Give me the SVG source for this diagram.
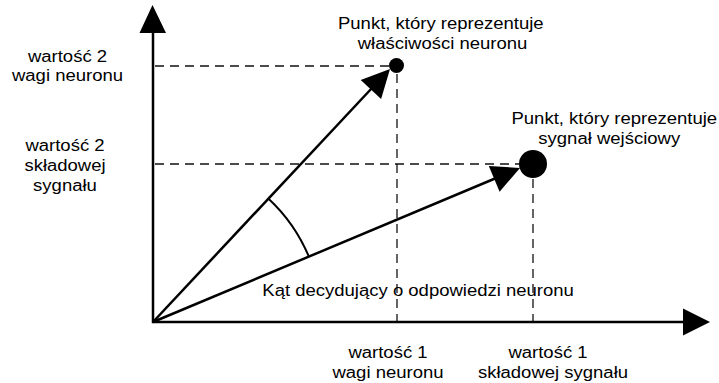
<svg xmlns="http://www.w3.org/2000/svg" width="719" height="383" viewBox="0 0 719 383">
  <style>
    text { font-family: "Liberation Sans", Arial, sans-serif; font-size: 16px; fill: #000; }
    .mid { text-anchor: middle; }
    .axis, .vec { stroke: #000; stroke-width: 2.5; fill: none; }
    .guide { stroke: #111; stroke-width: 1.3; stroke-dasharray: 9 6; fill: none; }
    .arc { stroke: #000; stroke-width: 2; fill: none; }
    .head { fill: #000; stroke: none; }
  </style>

  <!-- guide lines from the points to the axes -->
  <g id="guides">
    <line class="guide" x1="155" y1="66" x2="390" y2="66"/>
    <line class="guide" x1="397" y1="74" x2="397" y2="321"/>
    <line class="guide" x1="155" y1="164" x2="519" y2="164"/>
    <line class="guide" x1="533" y1="179" x2="533" y2="321"/>
  </g>

  <!-- axes and vectors -->
  <g id="connectors">
    <line class="axis" x1="153" y1="323" x2="153" y2="32"/>
    <polygon class="head" points="139.5,33 152.5,5 166,33"/>
    <line class="axis" x1="152" y1="322" x2="684" y2="322"/>
    <polygon class="head" points="683,308.5 710,322 683,335.5"/>

    <line class="vec" x1="153" y1="322" x2="372" y2="88"/>
    <polygon class="head" points="390,69 381.1,99 360.7,80"/>

    <line class="vec" x1="153" y1="322" x2="495" y2="178.5"/>
    <polygon class="head" points="520,168 499.6,191.7 488.8,165.9"/>

    <path class="arc" d="M268.3,198.4 A169,169 0 0,1 308.9,256.6"/>
  </g>

  <!-- neuron weight point -->
  <g id="neuron-point">
    <circle cx="396.5" cy="65.5" r="7.5" fill="#000"/>
    <text x="338" y="29" textLength="205.6" lengthAdjust="spacingAndGlyphs">Punkt, który reprezentuje</text>
    <text x="357.7" y="49" textLength="169.6" lengthAdjust="spacingAndGlyphs">właściwości neuronu</text>
  </g>

  <!-- input signal point -->
  <g id="signal-point">
    <circle cx="533" cy="164" r="14" fill="#000"/>
    <text x="511.5" y="124" textLength="205.6" lengthAdjust="spacingAndGlyphs">Punkt, który reprezentuje</text>
    <text x="538.3" y="144" textLength="141.9" lengthAdjust="spacingAndGlyphs">sygnał wejściowy</text>
  </g>

  <!-- axis value labels -->
  <g id="label-weight-2">
    <text class="mid" x="67.5" y="62" textLength="79.2" lengthAdjust="spacingAndGlyphs">wartość 2</text>
    <text class="mid" x="67.5" y="81" textLength="111.1" lengthAdjust="spacingAndGlyphs">wagi neuronu</text>
  </g>
  <g id="label-signal-2">
    <text class="mid" x="65" y="151" textLength="79.2" lengthAdjust="spacingAndGlyphs">wartość 2</text>
    <text class="mid" x="65" y="171" textLength="81.2" lengthAdjust="spacingAndGlyphs">składowej</text>
    <text class="mid" x="65" y="191" textLength="63.8" lengthAdjust="spacingAndGlyphs">sygnału</text>
  </g>
  <g id="label-weight-1">
    <text class="mid" x="388" y="358" textLength="79.2" lengthAdjust="spacingAndGlyphs">wartość 1</text>
    <text class="mid" x="388" y="378" textLength="111.1" lengthAdjust="spacingAndGlyphs">wagi neuronu</text>
  </g>
  <g id="label-signal-1">
    <text class="mid" x="548" y="358" textLength="79.2" lengthAdjust="spacingAndGlyphs">wartość 1</text>
    <text class="mid" x="553" y="378" textLength="150.1" lengthAdjust="spacingAndGlyphs">składowej sygnału</text>
  </g>

  <!-- angle label -->
  <g id="angle-label">
    <text x="262.3" y="296" textLength="311.6" lengthAdjust="spacingAndGlyphs">Kąt decydujący o odpowiedzi neuronu</text>
  </g>
</svg>
